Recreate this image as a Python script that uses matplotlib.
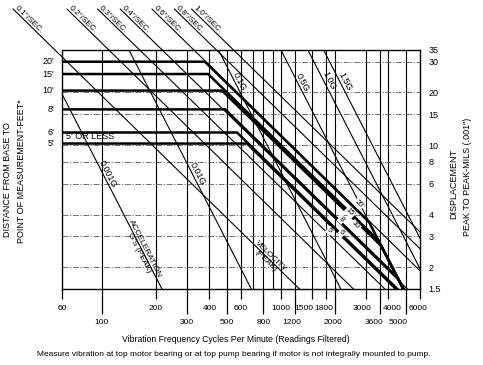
import math
import matplotlib.pyplot as plt
from matplotlib.ticker import NullLocator, NullFormatter

plt.rcParams['font.family'] = ['Liberation Sans', 'DejaVu Sans']

# frequency axis, cycles per minute
grid_freqs = [100, 200, 300, 400, 500, 600, 700, 800, 900, 1000, 1200, 1500,
              1800, 2000, 3000, 3600, 4000, 5000]
upper_ticks = [60, 200, 400, 600, 1000, 1500, 1800, 3000, 4000, 6000]
lower_ticks = [100, 300, 500, 800, 1200, 2000, 3600, 5000]

# displacement axis, mils peak to peak
disp_ticks = [35, 30, 20, 15, 10, 8, 6, 4, 3, 2, 1.5]
disp_grid = [30, 20, 15, 10, 8, 6, 4, 3, 2]

# constant velocity lines (start / end points)
vel_labels = ['0.1"/SEC.', '0.2"/SEC.', '0.3"/SEC.', '0.4"/SEC.',
              '0.6"/SEC.', '0.8"/SEC.', '1.0"/SEC.']
vel_f0 = [32, 64, 95, 127, 191, 255, 318]
vel_d0 = [60, 60, 60, 60, 60, 60, 60]
vel_f1 = [1273, 2547, 3820, 5093, 6000, 6000, 6000]
vel_d1 = [1.5, 1.5, 1.5, 1.5, 1.91, 2.55, 3.18]

# constant acceleration lines
acc_labels = ['0.001G', '0.01G', '0.1G', '0.5G', '1.0G', '1.5G']
acc_f0 = [60, 142, 449, 1003, 1418, 1737]
acc_d0 = [19.6, 35, 35, 35, 35, 35]
acc_f1 = [217, 685, 2167, 4845, 6000, 6000]
acc_d1 = [1.5, 1.5, 1.5, 1.5, 1.96, 2.93]
acc_lab_f = [103, 326, 558, 1256, 1757, 2162]
acc_lab_d = [6.64, 6.63, 22.6, 22.3, 22.8, 22.6]

# limit curves by distance from base
dist_labels = ["20'", "15'", "10'", "8'", "6'", "5'"]
dist_f = [[60, 377, 3112, 4845], [60, 393, 3512, 4845], [60, 470, 3653, 4845],
          [60, 489, 4499, 4845], [60, 570, 4484], [60, 648, 4407]]
dist_d = [[30, 30, 3.63, 1.5], [25.5, 25.5, 2.85, 1.5], [20.5, 20.5, 2.64, 1.5],
          [16, 16, 1.74, 1.5], [11.8, 11.8, 1.5], [10.2, 10.2, 1.5]]
dist_tag_f = [2736, 2437, 2620, 2185, 2185, 1884]
dist_tag_d = [4.6, 4.12, 3.47, 3.74, 3.13, 3.23]

W, H = 483, 365
fig = plt.figure(figsize=(W / 100, H / 100), dpi=100)
ax = fig.add_axes([62 / W, 1 - 289 / H, 358 / W, 239 / H])
ax.set_xscale('log')
ax.set_yscale('log')
ax.set_xlim(60, 6000)
ax.set_ylim(1.5, 35)

# angles of slope -1 and -2 lines on screen
px_dec_x = 358 / 2
px_dec_y = 239 / math.log10(35 / 1.5)
rot_v = -math.degrees(math.atan(px_dec_y / px_dec_x))
rot_a = -math.degrees(math.atan(2 * px_dec_y / px_dec_x))

for s in ax.spines.values():
    s.set_linewidth(1.0)

# ticks: long ones for the lower label row, short ones for the upper row
ax.set_xticks(lower_ticks)
ax.set_xticks(upper_ticks, minor=True)
ax.xaxis.set_major_formatter(NullFormatter())
ax.xaxis.set_minor_formatter(NullFormatter())
ax.tick_params(axis='x', which='major', length=18, width=0.9, direction='out')
ax.tick_params(axis='x', which='minor', length=7, width=0.9, direction='out')
ax.yaxis.tick_right()
ax.yaxis.set_minor_locator(NullLocator())
ax.set_yticks(disp_ticks)
ax.set_yticklabels([f'{d:g}' for d in disp_ticks])
ax.tick_params(axis='y', length=0, pad=6, labelsize=6.5)

# x tick labels in two rows (a few nudged apart, in pixels)
nudge = {1500: -8, 1800: -3, 3000: -4, 4000: 4, 6000: -2,
         1200: -3, 2000: -2, 3600: -6, 5000: -8}
for f in upper_ticks:
    ax.annotate(str(f), (f, 0), xycoords=('data', 'axes fraction'),
                xytext=(nudge.get(f, 0) * 0.72, -19 * 0.72), textcoords='offset points',
                ha='center', va='center', fontsize=6)
for f in lower_ticks:
    ax.annotate(str(f), (f, 0), xycoords=('data', 'axes fraction'),
                xytext=(nudge.get(f, 0) * 0.72, -34 * 0.72), textcoords='offset points',
                ha='center', va='center', fontsize=6)

# grid
for f in grid_freqs:
    ax.axvline(f, color='k', lw=0.8)
for d in disp_grid:
    ax.axhline(d, color='0.35', lw=0.6, ls=(0, (7, 2, 1.5, 2)))

# velocity lines
for lab, f0, d0, f1, d1 in zip(vel_labels, vel_f0, vel_d0, vel_f1, vel_d1):
    ax.plot([f0, f1], [d0, d1], color='k', lw=0.8, clip_on=False)
    ax.text(f0, d0, lab, rotation=rot_v, rotation_mode='anchor',
            ha='left', va='bottom', fontsize=6)

# acceleration lines
for lab, f0, d0, f1, d1, lf, ld in zip(acc_labels, acc_f0, acc_d0, acc_f1, acc_d1,
                                       acc_lab_f, acc_lab_d):
    ax.plot([f0, f1], [d0, d1], color='k', lw=0.8)
    ax.text(lf, ld, lab, rotation=rot_a, rotation_mode='anchor',
            ha='center', va='bottom', fontsize=6.5)

ax.text(168.5, 2.48, 'ACCELERATION', rotation=rot_a, rotation_mode='anchor',
        ha='center', va='bottom', fontsize=6)
ax.text(168.5, 2.48, "G'S (PEAK)", rotation=rot_a, rotation_mode='anchor',
        ha='center', va='top', fontsize=6)
ax.text(853, 2.24, 'VELOCITY', rotation=rot_v, rotation_mode='anchor',
        ha='center', va='bottom', fontsize=6)
ax.text(853, 2.24, '(PEAK)', rotation=rot_v, rotation_mode='anchor',
        ha='center', va='top', fontsize=6)

# distance curves
for lab, fs, ds, tf, td in zip(dist_labels, dist_f, dist_d, dist_tag_f, dist_tag_d):
    ax.plot(fs, ds, color='k', lw=1.8, solid_joinstyle='miter')
    ax.text(-0.022, ds[0], lab, transform=ax.get_yaxis_transform(),
            ha='right', va='center', fontsize=6.5)
    ax.text(tf, td, lab, rotation=rot_v, rotation_mode='anchor',
            ha='center', va='center', fontsize=5.5, zorder=5,
            bbox=dict(boxstyle='square,pad=0.05', fc='white', ec='none'))

ax.text(63, 10.6, "5' OR LESS", ha='left', va='bottom', fontsize=6.5)

# axis titles
fig.text(8 / W, 1 - 180 / H, 'DISTANCE FROM BASE TO', rotation=90,
         ha='center', va='center', fontsize=6.5)
fig.text(22 / W, 1 - 171 / H, 'POINT OF MEASUREMENT-FEET*', rotation=90,
         ha='center', va='center', fontsize=6.5)
fig.text(454 / W, 1 - 184 / H, 'DISPLACEMENT', rotation=90,
         ha='center', va='center', fontsize=6.5)
fig.text(468 / W, 1 - 177 / H, 'PEAK TO PEAK-MILS (.001")', rotation=90,
         ha='center', va='center', fontsize=6.5)
fig.text(236 / W, 1 - 340 / H,
         'Vibration Frequency Cycles Per Minute (Readings Filtered)',
         ha='center', va='center', fontsize=6.2)
fig.text(234 / W, 1 - 355 / H,
         'Measure vibration at top motor bearing or at top pump bearing '
         'if motor is not integrally mounted to pump.',
         ha='center', va='center', fontsize=6)

fig.savefig('out.png', dpi=100)
